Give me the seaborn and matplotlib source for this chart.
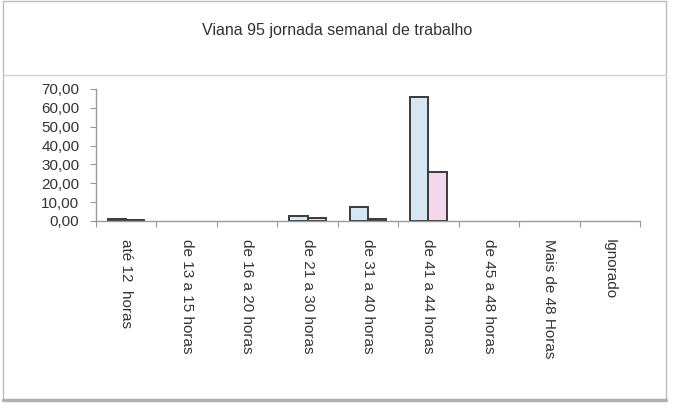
import numpy as np
import pandas as pd
import matplotlib
matplotlib.use("Agg")
import matplotlib.pyplot as plt
import seaborn as sns
from matplotlib.lines import Line2D
from matplotlib.ticker import FuncFormatter, FixedLocator

# categorias de jornada semanal
categorias = ["até 12  horas", "de 13 a 15 horas", "de 16 a 20 horas",
              "de 21 a 30 horas", "de 31 a 40 horas", "de 41 a 44 horas",
              "de 45 a 48 horas", "Mais de 48 Horas", "Ignorado"]
serie_1 = [1.0, 0.0, 0.0, 2.6, 7.4, 65.5, 0.0, 0.0, 0.0]
serie_2 = [0.3, 0.0, 0.0, 1.4, 1.2, 26.0, 0.0, 0.0, 0.0]
series = ["serie 1", "serie 2"]
cores = ["#d3e6f7", "#f7d3ee"]

df = pd.DataFrame({
    "categoria": categorias * 2,
    "valor": serie_1 + serie_2,
    "serie": [series[0]] * len(categorias) + [series[1]] * len(categorias),
})

sns.set_theme(style="white")
plt.rcParams["font.family"] = ["Liberation Sans", "DejaVu Sans"]

fig = plt.figure(figsize=(6.74, 4.08), dpi=100)
ax = fig.add_axes([96 / 674, 1 - 221 / 408, (640 - 96) / 674, (221 - 89) / 408])

sns.barplot(data=df, x="categoria", y="valor", hue="serie", order=categorias,
            palette=cores, width=0.6, edgecolor="#3a3a3a", linewidth=1.4,
            legend=False, ax=ax)
# barras de valor zero nao aparecem
for p in ax.patches:
    if p.get_height() == 0:
        p.set_visible(False)

ax.set_xlim(-0.5, len(categorias) - 0.5)
ax.set_ylim(0, 70)
ax.set_yticks(np.arange(0, 71, 10))
ax.yaxis.set_major_formatter(FuncFormatter(lambda v, p: f"{v:.2f}".replace(".", ",")))
ax.set_xlabel("")
ax.set_ylabel("")

# rotulos verticais, ticks nas fronteiras das categorias
ax.set_xticks(range(len(categorias)))
ax.set_xticklabels(categorias, rotation=270, va="top", ha="center", fontsize=11, color="#333333")
ax.xaxis.set_minor_locator(FixedLocator(np.arange(-0.5, len(categorias), 1)))
ax.tick_params(axis="x", which="major", length=0, pad=13)
ax.tick_params(axis="x", which="minor", length=4, width=0.8, color="#999999", direction="out", bottom=True)
ax.tick_params(axis="y", length=4, width=0.8, color="#999999", direction="out", left=True,
               labelsize=11, labelcolor="#333333", pad=8)

for s in ["top", "right"]:
    ax.spines[s].set_visible(False)
for s in ["left", "bottom"]:
    ax.spines[s].set_color("#9a9a9a")
    ax.spines[s].set_linewidth(1.0)

fig.text(337 / 674, 1 - 31 / 408, "Viana 95 jornada semanal de trabalho",
         ha="center", va="center", fontsize=11.5, color="#333333")

# moldura do grafico
def linha(x0, y0, x1, y1, lw=1.0, c="#bdbdbd"):
    fig.add_artist(Line2D([x0 / 674, x1 / 674], [1 - y0 / 408, 1 - y1 / 408],
                          transform=fig.transFigure, color=c, lw=lw))

linha(3, 1, 666, 1)
linha(3, 1, 3, 400)
linha(666, 1, 666, 400)
linha(3, 75, 666, 75, lw=1.0, c="#d0d0d0")
linha(3, 400, 666, 400, lw=2.5, c="#b0b0b0")

fig.savefig("out.png", dpi=100, facecolor="white")
